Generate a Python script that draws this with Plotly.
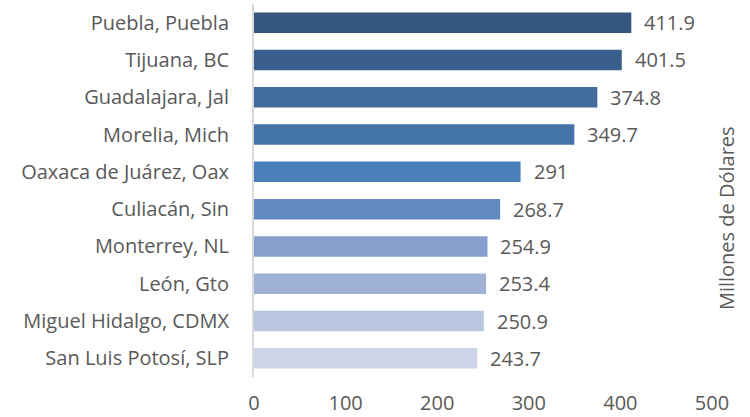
import plotly.graph_objects as go

categories = ["Puebla, Puebla", "Tijuana, BC", "Guadalajara, Jal", "Morelia, Mich",
              "Oaxaca de Juárez, Oax", "Culiacán, Sin", "Monterrey, NL", "León, Gto",
              "Miguel Hidalgo, CDMX", "San Luis Potosí, SLP"]
values = [411.9, 401.5, 374.8, 349.7, 291, 268.7, 254.9, 253.4, 250.9, 243.7]
value_labels = ["411.9", "401.5", "374.8", "349.7", "291", "268.7", "254.9", "253.4", "250.9", "243.7"]
colors = ["#34577f", "#3a5f8c", "#416b9d", "#4574ab", "#4a7ebd",
          "#6289c2", "#879fcc", "#9fb2d6", "#b9c6e0", "#ccd5e8"]
x_ticks = [0, 100, 200, 300, 400, 500]

font_family = "'Open Sans', sans-serif"
text_color = "#595959"
fs = 20

fig = go.Figure(go.Bar(
    y=categories, x=values, orientation="h",
    marker=dict(color=colors, line=dict(width=0)),
    width=0.55, hoverinfo="x+y",
))

for cat, val, lab in zip(categories, values, value_labels):
    fig.add_annotation(
        x=val, y=cat, xref="x", yref="y", text=lab, showarrow=False,
        xanchor="left", yanchor="middle", xshift=11,
        font=dict(size=fs, color=text_color, family=font_family),
    )

fig.update_layout(
    width=750, height=417,
    margin=dict(l=254, r=38, t=4, b=40, autoexpand=False),
    paper_bgcolor="white", plot_bgcolor="white",
    showlegend=False,
    font=dict(family=font_family, color=text_color, size=fs),
)
fig.update_yaxes(
    autorange="reversed", showline=True, linecolor="#d9d9d9", linewidth=2,
    showgrid=False, ticks="", ticklabelstandoff=19, automargin=False,
    tickfont=dict(size=fs, color=text_color, family=font_family),
)
fig.update_xaxes(
    range=[0, 500], tickvals=x_ticks, showgrid=False, zeroline=False,
    showline=False, ticks="", ticklabelstandoff=12, automargin=False,
    tickfont=dict(size=fs, color=text_color, family=font_family),
)
fig.add_annotation(
    text="Millones de Dólares", xref="paper", yref="paper",
    x=1.0, xshift=14, y=0.426, xanchor="center", yanchor="middle",
    textangle=-90, showarrow=False,
    font=dict(size=fs, color=text_color, family=font_family),
)
fig.write_html("out.html", config={"displayModeBar": False},
               post_script="document.body.style.margin='0';")
